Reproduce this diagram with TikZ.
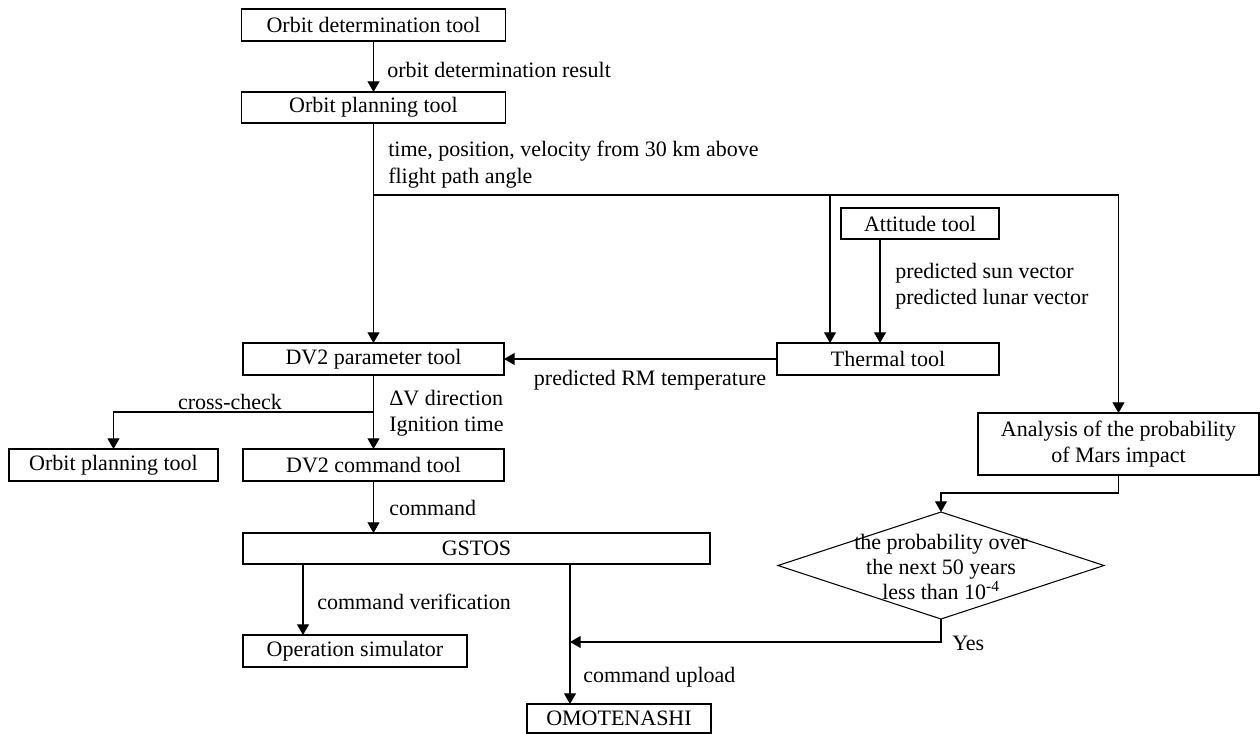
\documentclass[tikz,border=0pt]{standalone}
\usepackage{fontspec}
\setmainfont{Liberation Serif}
\usetikzlibrary{arrows.meta,shapes.geometric}
\newcommand{\flowfont}{\fontsize{16.5}{19.5}\selectfont}
\begin{document}
\begin{tikzpicture}[x=0.75pt,y=-0.75pt,
  sz/.style 2 args={minimum width=#1*0.75pt, minimum height=#2*0.75pt},
  box/.style={draw, line width=0.8pt, inner sep=0pt, outer sep=0pt, align=center, font=\flowfont},
  lab/.style={inner sep=0pt, anchor=west, align=left, font=\flowfont},
  flow/.style={line width=0.8pt, -{Triangle[width=9pt,length=8pt]}},
  link/.style={line width=0.8pt}]
% canvas
\fill[white] (0,0) rectangle (1260,734);
\useasboundingbox (0,0) rectangle (1260,734);

% boxes
\node[box, sz={264}{32}] (od) at (373.5,25) {Orbit determination tool};
\node[box, sz={264}{31}] (op) at (373.5,107.5) {Orbit planning tool};
\node[box, sz={261}{32}] (dvp) at (373.5,359) {DV2 parameter tool};
\node[box, sz={158}{31}] (att) at (920,223.5) {Attitude tool};
\node[box, sz={222}{32}] (th) at (888,359) {Thermal tool};
\node[box, sz={281}{62}, font=\fontsize{16.5}{20}\selectfont] (ana) at (1118.5,444) {Analysis of the probability\\of Mars impact};
\node[box, sz={209}{32}] (op2) at (113.5,465) {Orbit planning tool};
\node[box, sz={261}{32}] (dvc) at (373.5,465) {DV2 command tool};
\node[box, sz={467}{31}] (gs) at (476.5,548.5) {GSTOS};
\node[box, sz={224}{32}] (sim) at (355,651) {Operation simulator};
\node[box, sz={184}{29}] (omo) at (619,718.5) {OMOTENASHI};
\node[draw, line width=0.8pt, diamond, inner sep=0pt, outer sep=0pt, sz={326}{107}] (dec) at (941,565.5) {};
\node[inner sep=0pt, align=center, font=\fontsize{16.5}{19}\selectfont] (dect) at (941,567) {the probability over\\the next 50 years\\less than 10\textsuperscript{-4}};

% helper points
\coordinate (j1) at (373.5,195);
\coordinate (j2) at (830,195);
\coordinate (ax) at (880,0);
\coordinate (j3) at (373.5,412);
\coordinate (sx) at (303,0);
\coordinate (ox) at (570,0);
\coordinate (yj) at (570,642);

% connectors
\draw[flow] (od) -- (op);
\draw[flow] (op) -- (dvp);
\draw[flow] (j1) -| (ana.north);
\draw[flow] (j2) -- (j2 |- th.north);
\draw[flow] (att.south -| ax) -- (th.north -| ax);
\draw[flow] (th.west) -- (dvp.east);
\draw[flow] (dvp) -- (dvc);
\draw[flow] (j3) -| (op2.north);
\draw[flow] (dvc.south) -- (dvc.south |- gs.north);
\draw[flow] (gs.south -| sx) -- (sim.north -| sx);
\draw[flow] (gs.south -| ox) -- (omo.north -| ox);
\draw[flow] (ana.south) -- ++(0,18) -| (dec.north);
\draw[flow] (dec.south) |- (yj);

% labels
\node[lab] (l1) at (387,70) {orbit determination result};
\node[lab, font=\fontsize{16.5}{20}\selectfont] (l2) at (388,164.5) {time, position, velocity from 30 km above\\flight path angle};
\node[lab] (l3) at (895,286) {predicted sun vector\\predicted lunar vector};
\node[lab, anchor=center] (l4) at (650,380) {predicted RM temperature};
\node[lab, anchor=center] (l5) at (230,402) {cross-check};
\node[lab] (l6) at (389,413) {ΔV direction\\Ignition time};
\node[lab] (l7) at (389,508) {command};
\node[lab] (l8) at (317,602) {command verification};
\node[lab] (l9) at (583,677) {command upload};
\node[lab] (l10) at (952,643) {Yes};
\end{tikzpicture}
\end{document}
